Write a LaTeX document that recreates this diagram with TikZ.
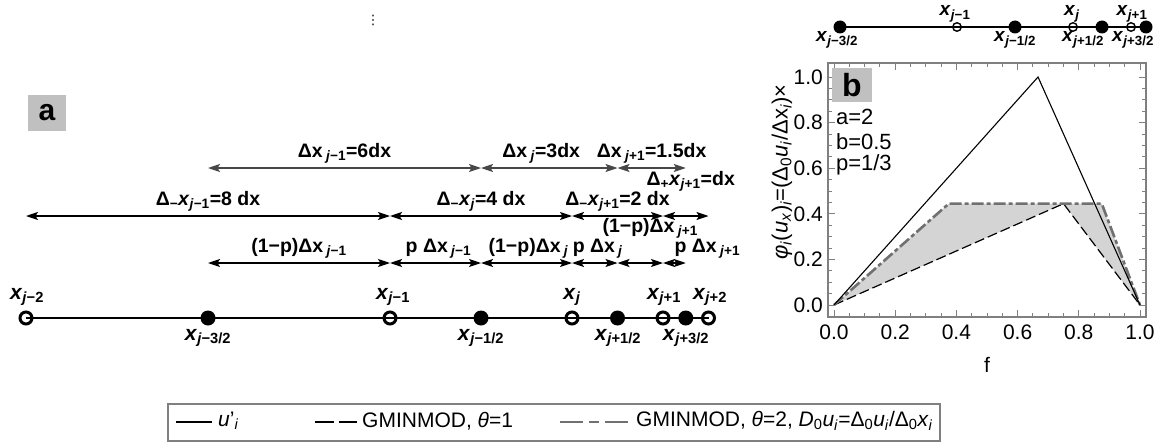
\documentclass[tikz,border=0pt]{standalone}
\usepackage{fontspec}
\setmainfont{Liberation Sans}
\newfontfamily\symfont{DejaVu Sans}
\usetikzlibrary{arrows.meta}
\newcommand{\lo}[1]{\textsubscript{#1}}
\newcommand{\xj}[1]{\textit{x}\lo{\textit{j}#1}}
\definecolor{boxgray}{RGB}{192,192,192}
\definecolor{framegray}{RGB}{128,128,128}
\definecolor{curvegray}{RGB}{112,112,112}
\definecolor{shadegray}{RGB}{212,212,212}
\tikzset{
  fs/.style={font={\fontsize{#1}{#1}\selectfont}},
  fsb/.style={font={\fontsize{#1}{#1}\selectfont\bfseries}},
  opn/.style={circle,draw,line width=3pt,minimum size=12pt,inner sep=0pt},
  dot/.style={circle,fill,minimum size=15pt,inner sep=0pt},
  sopn/.style={circle,draw,line width=1.4pt,minimum size=8.5pt,inner sep=0pt},
  sdot/.style={circle,fill,minimum size=13pt,inner sep=0pt},
  dimarrow/.style={{Stealth[length=12pt,width=8pt,inset=2.5pt]}-{Stealth[length=12pt,width=8pt,inset=2.5pt]},line width=1.3pt},
  dimlab/.style={fsb=19.5,above=4pt},
  ptlab/.style={fsb=21},
  ptlabs/.style={fsb=19},
}
\begin{document}
\begin{tikzpicture}[x=1pt,y=-1pt,every node/.style={inner sep=0pt}]
\useasboundingbox (0,0) rectangle (1161,444);

% small vertical ellipsis at the top
\node[font={\fontsize{13}{13}\selectfont\symfont}] (vd) at (373,20) {⋮};

% ---------------- panel a: nonuniform grid ----------------
\node[fill=boxgray,minimum width=38pt,minimum height=36pt,fsb=30] (tagA) at (47,113) {a};

\node[opn] (p0)   at (26,318) {};
\node[dot] (p4)   at (208,318) {};
\node[opn] (p8)   at (390,318) {};
\node[dot] (p10)  at (481,318) {};
\node[opn] (p12)  at (572,318) {};
\node[dot] (p13)  at (617.5,318) {};
\node[opn] (p14)  at (663,318) {};
\node[dot] (p14h) at (685.75,318) {};
\node[opn] (p15)  at (708.5,318) {};
\draw[line width=2pt] (p0.center) -- (p15.center);

% grid point labels
\node[ptlab] (t0)   at (27,297)  {\xj{−2}};
\node[ptlab] (t8)   at (393,297) {\xj{−1}};
\node[ptlab] (t12)  at (572,297) {\xj{}};
\node[ptlab] (t14)  at (664,297) {\xj{+1}};
\node[ptlab] (t15)  at (710,297) {\xj{+2}};
\node[ptlab] (t4)   at (208,338) {\xj{−3/2}};
\node[ptlab] (t10)  at (481,338) {\xj{−1/2}};
\node[ptlab] (t13)  at (618,338) {\xj{+1/2}};
\node[ptlab] (t14h) at (686,338) {\xj{+3/2}};

% ends of the dimension arrows, one row each
\foreach \n/\x in {0/26,4/208,8/390,10/481,12/572,13/617.5,14/663,14h/685.75,15/708.5}{
  \coordinate (r1-\n) at (\x,168);
  \coordinate (r2-\n) at (\x,216);
  \coordinate (r3-\n) at (\x,263);
}

% row 1: cell widths
\begin{scope}[black!72]
\draw[dimarrow] (r1-4) -- node[dimlab,black] {Δx\,\lo{\textit{j}−1}=6dx} (r1-10);
\draw[dimarrow] (r1-10) -- node[dimlab,black,xshift=-8pt] {Δx\,\lo{\textit{j}}=3dx} (r1-13);
\draw[dimarrow] (r1-13) -- node[dimlab,black] {Δx\,\lo{\textit{j}+1}=1.5dx} (r1-14h);
\end{scope}

% row 2: backward differences
\draw[dimarrow] (r2-0) -- node[dimlab] {Δ\lo{−}\textit{x}\lo{\textit{j}−1}=8 dx} (r2-8);
\draw[dimarrow] (r2-8) -- node[dimlab] {Δ\lo{−}\textit{x}\lo{\textit{j}}=4 dx} (r2-12);
\draw[dimarrow] (r2-12) -- node[dimlab] {Δ\lo{−}\textit{x}\lo{\textit{j}+1}=2 dx} (r2-14);
\draw[dimarrow] (r2-14) -- node[dimlab,above=20pt,xshift=5pt] {Δ\lo{+}\textit{x}\lo{\textit{j}+1}=dx} (r2-15);

% row 3: split of each cell
\draw[dimarrow] (r3-4) -- node[dimlab] {(1−p)Δx\,\lo{\textit{j}−1}} (r3-8);
\draw[dimarrow] (r3-8) -- node[dimlab,xshift=3pt] {p Δx\,\lo{\textit{j}−1}} (r3-10);
\draw[dimarrow] (r3-10) -- node[dimlab,xshift=2pt] {(1−p)Δx\,\lo{\textit{j}}} (r3-12);
\draw[dimarrow] (r3-12) -- node[dimlab,xshift=3pt] {p Δx\,\lo{\textit{j}}} (r3-13);
\draw[dimarrow] (r3-13) -- node[dimlab,above=20pt,xshift=10pt] {(1−p)Δx\,\lo{\textit{j}+1}} (r3-14);
\draw[dimarrow] (r3-14) -- node[dimlab,xshift=33pt] {p Δx\,\lo{\textit{j}+1}} (r3-14h);

% ---------------- panel b: grid sketch ----------------
\node[sdot] (q1) at (840,27) {};
\node[sopn] (q2) at (957,27) {};
\node[sdot] (q3) at (1015,27) {};
\node[sopn] (q4) at (1073,27) {};
\node[sdot] (q5) at (1102,27) {};
\node[sopn] (q6) at (1131,27) {};
\node[sdot] (q7) at (1146,27) {};
\draw[line width=1.2pt] (q1.center) -- (q7.center);
\node[ptlabs] (s2) at (955,14)  {\xj{−1}};
\node[ptlabs] (s4) at (1072,14) {\xj{}};
\node[ptlabs] (s6) at (1132,14) {\xj{+1}};
\node[ptlabs] (s1) at (837,40)  {\xj{−3/2}};
\node[ptlabs] (s3) at (1015,40) {\xj{−1/2}};
\node[ptlabs] (s5) at (1083,40) {\xj{+1/2}};
\node[ptlabs] (s7) at (1133,40) {\xj{+3/2}};

% ---------------- panel b: limiter plot ----------------
\begin{scope}[shift={(834,305)},x=306pt,y=228pt]
  \fill[shadegray] (0,0) -- (0.375,0.4444) -- (0.875,0.4444) -- (1,0) -- (0.75,0.4444) -- cycle;
  \draw[black,line width=1.2pt,dash pattern=on 10pt off 4pt] (0,0) -- (0.75,0.4444) -- (1,0);
  \draw[curvegray,line width=2.6pt,dash pattern=on 12pt off 3pt on 4pt off 3pt] (0,0) -- (0.375,0.4444) -- (0.875,0.4444) -- (1,0);
  \draw[black,line width=1.1pt] (0,0) -- (0.6667,1) -- (1,0);

  \draw[framegray,line width=1.3pt] (-0.0196,-0.0526) rectangle (1.0196,1.061);
  \foreach \t in {0,0.05,...,1.01}{
    \draw[framegray,line width=0.9pt] (\t,-0.0526) -- ++(0pt,4pt);
    \draw[framegray,line width=0.9pt] (\t,1.061) -- ++(0pt,-4pt);
    \draw[framegray,line width=0.9pt] (-0.0196,\t) -- ++(4pt,0pt);
    \draw[framegray,line width=0.9pt] (1.0196,\t) -- ++(-4pt,0pt);
  }
  \foreach \t in {0.0,0.2,0.4,0.6,0.8,1.0}{
    \draw[framegray,line width=0.9pt] (\t,-0.0526) -- ++(0pt,7pt);
    \draw[framegray,line width=0.9pt] (\t,1.061) -- ++(0pt,-7pt);
    \draw[framegray,line width=0.9pt] (-0.0196,\t) -- ++(7pt,0pt);
    \draw[framegray,line width=0.9pt] (1.0196,\t) -- ++(-7pt,0pt);
    \node[fs=21,anchor=north,yshift=-8pt] at (\t,-0.0526) {\t};
    \node[fs=21,anchor=east,xshift=-5pt] at (-0.0196,\t) {\t};
  }
  \node[fs=21] (xl) at (0.5,-0.263) {f};
  \node[fs=22,rotate=90] (yl) at (-0.17,0.583)
    {\textit{φ}\lo{\textit{i}}(\textit{u}\lo{\textit{x}})\lo{\textit{i}}=(Δ\lo{0}\textit{u}\lo{\textit{i}}/Δx\lo{\textit{i}})×};
  \node[fill=boxgray,minimum width=40pt,minimum height=34pt,fsb=32] (tagB) at (0.0588,0.965) {b};
  \node[fs=22,anchor=west] (pa) at (0.006,0.825) {a=2};
  \node[fs=22,anchor=west] (pb) at (0.006,0.715) {b=0.5};
  \node[fs=22,anchor=west] (pp) at (0.006,0.614) {p=1/3};
\end{scope}

% ---------------- legend ----------------
\node[draw=framegray,line width=1.5pt,minimum width=772pt,minimum height=37pt] (leg) at (554,422.5) {};
\coordinate (l1a) at (176,422); \coordinate (l1b) at (212,422);
\coordinate (l2a) at (315,422); \coordinate (l2b) at (357,422);
\coordinate (l3a) at (560,422); \coordinate (l3b) at (630,422);
\draw[line width=2.4pt] (l1a) -- (l1b);
\draw[line width=2.8pt,dash pattern=on 19pt off 5pt] (l2a) -- (l2b);
\draw[curvegray,line width=2.8pt,dash pattern=on 23pt off 6pt on 10pt off 6pt] (l3a) -- (l3b);
\node[fs=21,anchor=west] (e1) at (218,421) {\textit{u}'\lo{\textit{i}}};
\node[fs=21,anchor=west] (e2) at (362,421) {GMINMOD, \textit{θ}=1};
\node[fs=21,anchor=west] (e3) at (636,421) {GMINMOD, \textit{θ}=2, \textit{D}\lo{0}\textit{u}\lo{\textit{i}}=Δ\lo{0}\textit{u}\lo{\textit{i}}/Δ\lo{0}\textit{x}\lo{\textit{i}}};
\end{tikzpicture}
\end{document}
